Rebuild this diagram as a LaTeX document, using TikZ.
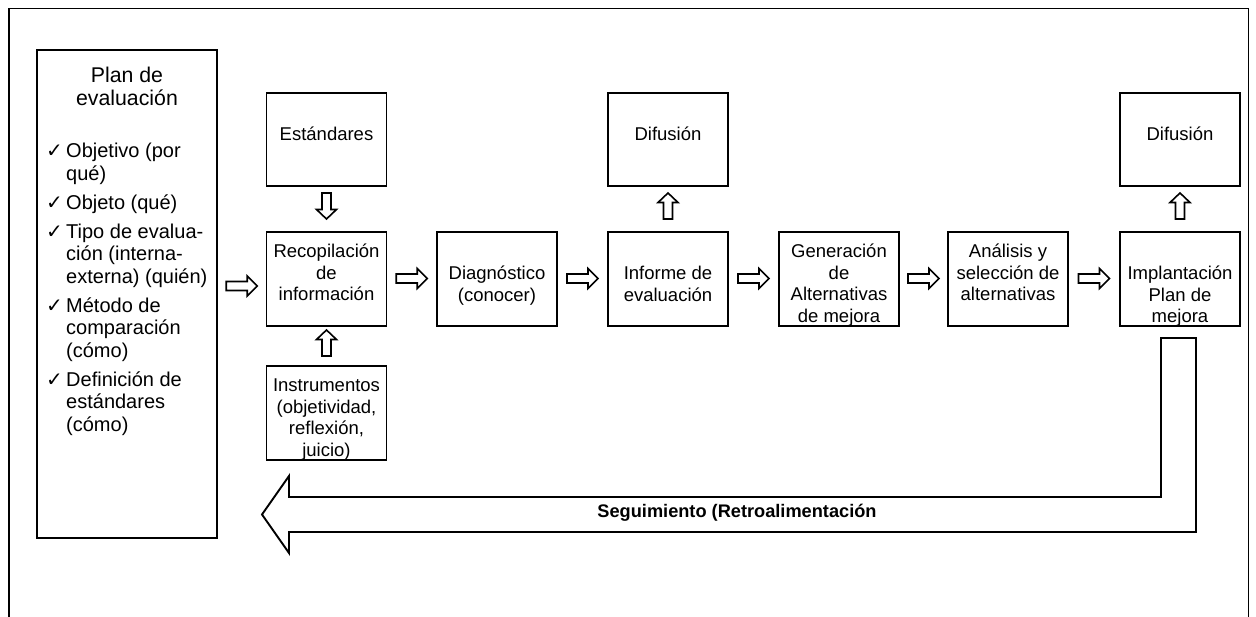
\documentclass[tikz,border=0pt]{standalone}
\usepackage{fontspec}
\setmainfont{Liberation Sans}
\newfontfamily\checkfont{DejaVu Sans}
\usetikzlibrary{calc}

% centred multi-line text whose base anchor is the first baseline
\newcommand\ml[1]{\begin{tabular}[t]{@{}c@{}}#1\end{tabular}}
\newcommand\ck{\makebox[19pt][l]{\hspace{-1pt}\checkfont\fontsize{20}{20}\selectfont ✓}}
\renewcommand\arraystretch{1}

\begin{document}
\begin{tikzpicture}[x=1pt,y=-1pt,
  box/.style={draw, line width=1.9pt, minimum width=120pt, minimum height=94pt, inner sep=0pt},
  txt/.style={anchor=base, inner sep=0pt, font=\fontsize{18.5}{21.5}\selectfont},
  blk/.style={draw, line width=1.6pt, fill=white, line join=miter},
  pics/hblk/.style={code={\path[blk] (-15.5,-4.5) -- (5.5,-4.5) -- (5.5,-10) -- (15.5,0) -- (5.5,10) -- (5.5,4.5) -- (-15.5,4.5) -- cycle;}},
  pics/dblk/.style={code={\path[blk] (-4.5,-13) -- (-4.5,3.5) -- (-10,3.5) -- (0,13) -- (10,3.5) -- (4.5,3.5) -- (4.5,-13) -- cycle;}},
  pics/ublk/.style={code={\path[blk] (-4.5,13) -- (-4.5,-3.5) -- (-10,-3.5) -- (0,-13) -- (10,-3.5) -- (4.5,-3.5) -- (4.5,13) -- cycle;}},
]
\useasboundingbox (0,0) rectangle (1256,617);
\fill[white] (0,0) rectangle (1256,617);

% outer frame, open at the bottom
\draw[line width=1.5pt] (9,620) -- (9,8.5) -- (1248.5,8.5) -- (1248.5,620);

% plan box
\node[box, minimum width=180pt, minimum height=488pt] (plan) at (127,294) {};
\node[anchor=base, inner sep=0pt, font=\fontsize{21.3}{22}\selectfont] (plantitle) at (127,83) {\ml{Plan de\\evaluación}};
\node[anchor=base west, inner sep=0pt, font=\fontsize{20}{22.5}\selectfont] (planlist) at (47,158) {%
\begin{tabular}[t]{@{}l@{}l@{}}
\ck & Objetivo (por\\
    & qué)\\[6.5pt]
\ck & Objeto (qué)\\[6.5pt]
\ck & Tipo de evalua-\\
    & ción (interna-\\
    & externa) (quién)\\[6.5pt]
\ck & Método de\\
    & comparación\\
    & (cómo)\\[6.5pt]
\ck & Definición de\\
    & estándares\\
    & (cómo)
\end{tabular}};

% process boxes
\node[box, minimum height=93pt] (est)  at (326.5,139.5) {};
\node[box] (rec)  at (326.5,279) {};
\node[box] (ins)  at (326.5,413) {};
\node[box] (diag) at (497,279) {};
\node[box] (inf)  at (668,279) {};
\node[box, minimum height=93pt] (dif1) at (668,139.5) {};
\node[box] (gen)  at (839,279) {};
\node[box] (ana)  at (1008,279) {};
\node[box] (imp)  at (1180,279) {};
\node[box, minimum height=93pt] (dif2) at (1180,139.5) {};

% box texts
\node[txt] (estT)  at (326.5,141) {Estándares};
\node[txt] (recT)  at (326.5,258) {\ml{Recopilación\\de\\información}};
\node[txt] (insT)  at (326.5,392) {\ml{Instrumentos\\(objetividad,\\reflexión,\\juicio)}};
\node[txt] (diagT) at (497,280) {\ml{Diagnóstico\\(conocer)}};
\node[txt] (infT)  at (668,280) {\ml{Informe de\\evaluación}};
\node[txt] (dif1T) at (668,141) {Difusión};
\node[txt] (genT)  at (839,258) {\ml{Generación\\de\\Alternativas\\de mejora}};
\node[txt] (anaT)  at (1008,258) {\ml{Análisis y\\selección de\\alternativas}};
\node[txt] (impT)  at (1180,280) {\ml{Implantación\\Plan de\\mejora}};
\node[txt] (dif2T) at (1180,141) {Difusión};

% block arrows along the process
\pic at ($(plan.east)!0.5!(rec.west)+(0,-0.5)$) {hblk};
\pic at ($(rec.east)!0.5!(diag.west)+(0,-0.5)$) {hblk};
\pic at ($(diag.east)!0.5!(inf.west)+(0,-0.5)$) {hblk};
\pic at ($(inf.east)!0.5!(gen.west)+(0,-0.5)$) {hblk};
\pic at ($(gen.east)!0.5!(ana.west)+(0,-0.5)$) {hblk};
\pic at ($(ana.east)!0.5!(imp.west)+(0,-0.5)$) {hblk};
\pic at ($(est.south)!0.5!(rec.north)+(0,-3)$) {dblk};
\pic at ($(ins.north)!0.5!(rec.south)+(0,-3)$) {ublk};
\pic at ($(inf.north)!0.5!(dif1.south)+(0,-3)$) {ublk};
\pic at ($(imp.north)!0.5!(dif2.south)+(0,-3)$) {ublk};

% feedback arrow
\draw[line width=1.9pt, line join=miter]
  (1161,338) -- (1196,338) -- (1196,532) -- (289,532) -- (289,553)
  -- (262,514.5) -- (289,476) -- (289,497) -- (1161,497) -- cycle;
\node[anchor=base, inner sep=0pt, font=\bfseries\fontsize{18.2}{21}\selectfont] (seg) at (737,517.5) {Seguimiento (Retroalimentación};
\end{tikzpicture}
\end{document}
